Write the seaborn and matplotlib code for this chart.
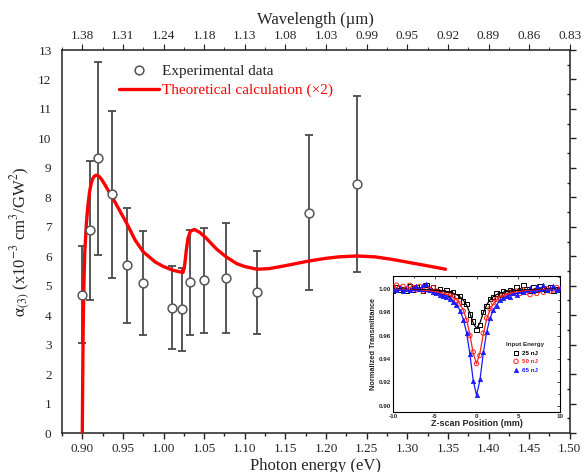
import numpy as np
import pandas as pd
import matplotlib
matplotlib.use("Agg")
import matplotlib.pyplot as plt
import seaborn as sns
from matplotlib.ticker import MultipleLocator, FixedLocator, NullFormatter
from matplotlib.lines import Line2D

# ---------------- data ----------------
exp_energy = [0.900, 0.909, 0.919, 0.936, 0.955, 0.975, 1.011, 1.023, 1.032, 1.050, 1.077, 1.115, 1.179, 1.238]
exp_alpha = [4.70, 6.88, 9.32, 8.10, 5.70, 5.08, 4.26, 4.20, 5.11, 5.19, 5.27, 4.77, 7.47, 8.46]
exp_err = [1.65, 2.37, 3.28, 2.83, 1.95, 1.77, 1.42, 1.40, 1.77, 1.78, 1.86, 1.41, 2.63, 2.99]

theo_energy = [0.900, 0.9005, 0.901, 0.902, 0.903, 0.905, 0.907, 0.909, 0.911, 0.913, 0.915,
               0.917, 0.919, 0.921, 0.924, 0.928, 0.933, 0.940, 0.948,
               0.955, 0.965, 0.975, 0.990, 1.000, 1.011, 1.020, 1.024, 1.026, 1.028, 1.030,
               1.033, 1.038, 1.045, 1.053, 1.065, 1.077, 1.090, 1.100, 1.115, 1.130, 1.150,
               1.179, 1.200, 1.216, 1.238, 1.260, 1.280, 1.300, 1.320, 1.347]
theo_alpha = [0.00, 1.80, 3.40, 5.10, 6.10, 7.10, 7.75, 8.20, 8.48, 8.64, 8.72,
              8.75, 8.74, 8.70, 8.60, 8.42, 8.18, 7.85, 7.45,
              7.10, 6.55, 6.15, 5.80, 5.65, 5.53, 5.47, 5.45, 5.70, 6.20, 6.60,
              6.85, 6.91, 6.80, 6.60, 6.25, 5.98, 5.75, 5.65, 5.56, 5.58, 5.68,
              5.84, 5.93, 5.98, 6.01, 5.98, 5.90, 5.80, 5.70, 5.56]

energy_ticks = [0.90, 0.95, 1.00, 1.05, 1.10, 1.15, 1.20, 1.25, 1.30, 1.35, 1.40, 1.45, 1.50]
wavelength_labels = ['1.38', '1.31', '1.24', '1.18', '1.13', '1.08', '1.03', '0.99',
                     '0.95', '0.92', '0.89', '0.86', '0.83']

# inset (Z-scan) data
z_pos = [-10.0, -9.6, -9.2, -8.8, -8.4, -8.0, -7.6, -7.2, -6.8, -6.4, -6.0, -5.6, -5.2,
         -4.8, -4.4, -4.0, -3.6, -3.2, -2.8, -2.4, -2.0, -1.6, -1.2, -0.8, -0.4, 0.0,
         0.4, 0.8, 1.2, 1.6, 2.0, 2.4, 2.8, 3.2, 3.6, 4.0, 4.4, 4.8, 5.2, 5.6, 6.0,
         6.4, 6.8, 7.2, 7.6, 8.0, 8.4, 8.8, 9.2, 9.6, 10.0]
t_25nJ = [0.998, 1.001, 0.999, 1.000, 0.998, 1.002, 0.999, 1.001, 1.000, 0.998, 1.003, 0.999, 1.001,
          0.998, 1.000, 0.997, 0.999, 0.996, 0.997, 0.994, 0.994, 0.989, 0.987, 0.978, 0.972, 0.965,
          0.969, 0.980, 0.985, 0.991, 0.993, 0.996, 0.995, 0.998, 0.997, 0.999, 0.998, 1.001, 0.999,
          1.003, 1.000, 0.998, 1.001, 0.999, 1.002, 1.000, 0.999, 1.001, 0.998, 1.000, 0.999]
t_50nJ = [1.002, 1.003, 1.001, 1.002, 1.000, 1.003, 1.001, 0.999, 1.002, 0.998, 1.000, 0.999, 1.001,
          0.998, 0.997, 0.996, 0.996, 0.994, 0.993, 0.990, 0.987, 0.981, 0.973, 0.960, 0.946, 0.936,
          0.943, 0.962, 0.975, 0.983, 0.988, 0.991, 0.992, 0.995, 0.994, 0.997, 0.996, 0.998, 0.996,
          0.999, 0.997, 0.995, 0.998, 0.996, 0.999, 0.997, 1.000, 0.998, 0.999, 1.001, 0.999]
t_65nJ = [1.000, 0.999, 1.001, 0.998, 1.000, 0.999, 1.001, 1.002, 1.000, 1.003, 1.004, 0.999, 0.997,
          0.996, 0.995, 0.994, 0.993, 0.991, 0.989, 0.986, 0.981, 0.973, 0.962, 0.944, 0.921, 0.909,
          0.923, 0.946, 0.963, 0.975, 0.982, 0.985, 0.990, 0.992, 0.994, 0.993, 0.996, 0.995, 0.998,
          0.997, 0.999, 1.001, 0.998, 1.002, 1.000, 1.003, 0.999, 1.001, 1.002, 0.999, 1.001]

z_fit = [-10, -9, -8, -7, -6, -5, -4, -3.6, -3.2, -2.8, -2.4, -2.0, -1.6, -1.2, -0.8, -0.4, 0,
         0.4, 0.8, 1.2, 1.6, 2.0, 2.4, 2.8, 3.2, 3.6, 4, 5, 6, 7, 8, 9, 10]
fit_25nJ = [0.9997, 0.9996, 0.9995, 0.9993, 0.9991, 0.9987, 0.9980, 0.9976, 0.9970, 0.9962, 0.9950,
            0.9932, 0.9904, 0.9861, 0.9793, 0.9707, 0.9660, 0.9707, 0.9793, 0.9861, 0.9904, 0.9932,
            0.9950, 0.9962, 0.9970, 0.9976, 0.9980, 0.9987, 0.9991, 0.9993, 0.9995, 0.9996, 0.9997]
fit_50nJ = [0.9994, 0.9992, 0.9990, 0.9987, 0.9983, 0.9975, 0.9962, 0.9954, 0.9943, 0.9928, 0.9905,
            0.9872, 0.9820, 0.9738, 0.9610, 0.9448, 0.9360, 0.9448, 0.9610, 0.9738, 0.9820, 0.9872,
            0.9905, 0.9928, 0.9943, 0.9954, 0.9962, 0.9975, 0.9983, 0.9987, 0.9990, 0.9992, 0.9994]
fit_65nJ = [0.9991, 0.9989, 0.9986, 0.9982, 0.9975, 0.9965, 0.9946, 0.9935, 0.9919, 0.9897, 0.9865,
            0.9818, 0.9744, 0.9627, 0.9445, 0.9216, 0.9090, 0.9216, 0.9445, 0.9627, 0.9744, 0.9818,
            0.9865, 0.9897, 0.9919, 0.9935, 0.9946, 0.9965, 0.9975, 0.9982, 0.9986, 0.9989, 0.9991]
inset_series = ['25 nJ', '50 nJ', '65 nJ']

# ---------------- style ----------------
sns.set_style("white")
plt.rcParams['font.family'] = ['Liberation Serif', 'DejaVu Serif']
plt.rcParams['mathtext.fontset'] = 'stix'

fig = plt.figure(figsize=(5.82, 4.72), dpi=100)
ax = fig.add_axes([0.1065, 0.0826, 0.8725, 0.8114])

theo_df = pd.DataFrame({'E': theo_energy, 'a': theo_alpha})
sns.lineplot(data=theo_df, x='E', y='a', ax=ax, color='#ff0000', lw=2.4, sort=False,
             estimator=None, zorder=3)
ax.errorbar(exp_energy, exp_alpha, yerr=exp_err, fmt='none', ecolor='#4a4a4a',
            elinewidth=1.3, capsize=3.2, capthick=1.3, zorder=2)
exp_df = pd.DataFrame({'E': exp_energy, 'a': exp_alpha})
sns.scatterplot(data=exp_df, x='E', y='a', ax=ax, marker='o', s=40, facecolor='white',
                edgecolor='#555555', linewidth=1.1, zorder=4)

ax.set_xlim(0.875, 1.50)
ax.set_ylim(0, 13)
ax.xaxis.set_major_locator(FixedLocator(energy_ticks))
ax.xaxis.set_minor_locator(MultipleLocator(0.025))
ax.yaxis.set_major_locator(MultipleLocator(1))
ax.yaxis.set_minor_locator(MultipleLocator(0.5))
ax.set_xticklabels([f"{v:.2f}" for v in energy_ticks])
ax.tick_params(axis='both', which='major', labelsize=9.5, color='#222222', width=1.0)
ax.tick_params(axis='x', which='major', direction='out', length=4, pad=3)
ax.tick_params(axis='x', which='minor', direction='out', length=2.5, width=1.0, color='#222222')
ax.tick_params(axis='y', which='major', direction='out', length=4, right=True)
ax.tick_params(axis='y', which='minor', direction='in', length=2.5, width=1.0, color='#222222', right=True)
for sp in ax.spines.values():
    sp.set_color('#222222')
    sp.set_linewidth(1.1)
ax.set_xlabel('Photon energy (eV)', fontsize=12, labelpad=2)
ax.set_ylabel(r'$\mathrm{\alpha}_{(3)}$ (x10$^{-3}$ cm$^{3}$/GW$^{2}$)', fontsize=12, labelpad=4)

# top wavelength axis
axt = ax.twiny()
axt.set_xlim(ax.get_xlim())
axt.xaxis.set_major_locator(FixedLocator(energy_ticks))
axt.xaxis.set_minor_locator(MultipleLocator(0.025))
axt.set_xticklabels(wavelength_labels)
axt.tick_params(axis='x', which='major', direction='out', length=4, labelsize=9.5, pad=2,
                color='#222222')
axt.tick_params(axis='x', which='minor', direction='out', length=2.5, color='#222222')
axt.set_xlabel('Wavelength (\u00b5m)', fontsize=12, labelpad=4)
for sp in axt.spines.values():
    sp.set_visible(False)

# legend
handles = [Line2D([], [], marker='o', ls='none', markerfacecolor='white',
                  markeredgecolor='#555555', markersize=6.3, markeredgewidth=1.1),
           Line2D([], [], color='#ff0000', lw=2.4)]
leg = ax.legend(handles, ['Experimental data', 'Theoretical calculation (\u00d72)'],
                loc='upper left', bbox_to_anchor=(0.112, 0.962), frameon=False,
                fontsize=11, handlelength=2.6, handletextpad=0.25, labelspacing=0.35,
                borderpad=0, borderaxespad=0)
leg.get_texts()[1].set_color('#ff0000')
leg.get_texts()[0].set_color('#222222')

# ---------------- inset ----------------
axi = fig.add_axes([0.6753, 0.128, 0.287, 0.2875])
axi.set_facecolor('white')
sans = ['Liberation Sans', 'DejaVu Sans']
colors = ['black', '#ff2020', '#1a1aff']
markers = ['s', 'o', '^']
values = [t_25nJ, t_50nJ, t_65nJ]
fits = [fit_25nJ, fit_50nJ, fit_65nJ]
for name, col, mk, vals, ft in zip(inset_series, colors, markers, values, fits):
    df = pd.DataFrame({'z': z_pos, 'T': vals})
    if mk == '^':
        sns.scatterplot(data=df, x='z', y='T', ax=axi, marker=mk, s=10, color=col,
                        edgecolor=col, linewidth=0.5, label=name, zorder=3)
    else:
        sns.scatterplot(data=df, x='z', y='T', ax=axi, marker=mk, s=10, facecolor='none',
                        edgecolor=col, linewidth=0.7, label=name, zorder=3)
    fdf = pd.DataFrame({'z': z_fit, 'T': ft})
    sns.lineplot(data=fdf, x='z', y='T', ax=axi, color=col, lw=0.9, sort=False,
                 estimator=None, zorder=4, legend=False)

axi.set_xlim(-10, 10)
axi.set_ylim(0.895, 1.011)
axi.xaxis.set_minor_locator(MultipleLocator(2.5))
axi.yaxis.set_minor_locator(MultipleLocator(0.01))
axi.tick_params(which='both', direction='in', top=True, right=True, length=2, width=0.6,
                labelsize=4.5, pad=1.5)
axi.tick_params(which='minor', length=1.2)
axi.set_xticks([-10, -5, 0, 5, 10])
axi.set_xticklabels(['-10', '-5', '0', '5', '10'], fontweight='bold', family=sans)
axi.set_yticks([0.90, 0.92, 0.94, 0.96, 0.98, 1.00])
axi.set_yticklabels(['0.90', '0.92', '0.94', '0.96', '0.98', '1.00'], fontweight='bold', family=sans)
for sp in axi.spines.values():
    sp.set_linewidth(0.8)
    sp.set_color('black')
axi.set_xlabel('Z-scan Position (mm)', fontsize=6.5, fontweight='bold', family=sans, labelpad=0.5)
axi.set_ylabel('Normalized Transmittance', fontsize=5.3, fontweight='bold', family=sans, labelpad=1)
ileg = axi.legend(loc='center', bbox_to_anchor=(0.79, 0.40), frameon=False, fontsize=4.5,
                  title='Input Energy', title_fontproperties={'family': sans, 'weight': 'bold', 'size': 4.5},
                  handletextpad=0.3, labelspacing=0.5, markerscale=1.0, handlelength=1.2)
for t, c in zip(ileg.get_texts(), colors):
    t.set_color(c)
    t.set_fontweight('bold')
    t.set_family(sans)

fig.savefig('out.png', dpi=100, facecolor='white')
